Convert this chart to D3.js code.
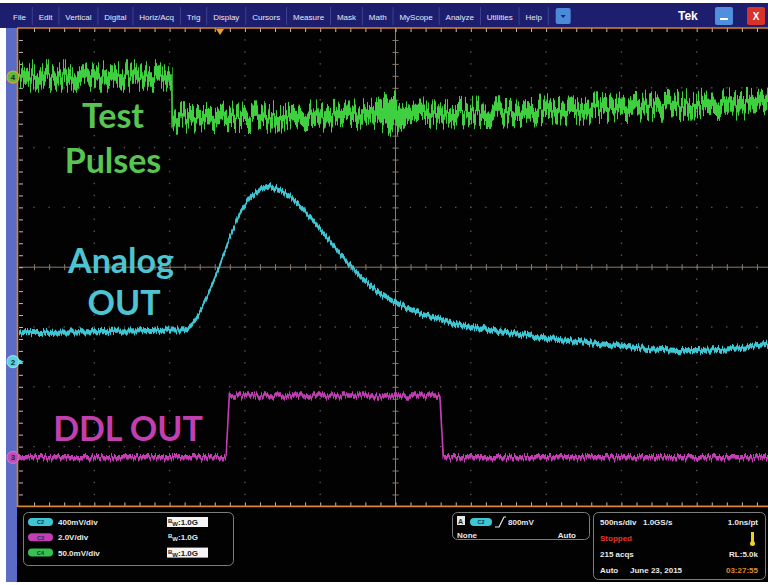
<!DOCTYPE html>
<html>
<head>
<meta charset="utf-8">
<script src="https://cdn.jsdelivr.net/npm/d3@7"></script>
<style>
  html, body { margin: 0; padding: 0; background: #fff; }
  svg { display: block; font-family: "Liberation Sans", Arial, sans-serif; }
</style>
</head>
<body>
<svg id="scope" width="768" height="585"></svg>
<script>
// ---------------- acquisition ----------------
const screenTime = [-1335, 3665];           // ns across the 10 horizontal divisions
const timePerDiv = 500;                      // ns/div

// Channel 4 — test pulses (mV)
const c4Time  = [-1335, -320, -318, -300, 531, 1000, 1090, 1130, 1170, 1260, 1859, 2523, 3187, 3665];
const c4Volts = [0.8, 0.8, -38, -34.3, -33, -31.6, -31.3, -31, -30.8, -30.5, -29.3, -26, -23, -22];
const c4Noise = [13, 13, 13, 13, 13, 13, 22, 30, 22, 13, 13, 13, 13, 13];   // mV p-p

// Channel 2 — analog shaper output (V)
const c2Time  = [-1335, -797, -232, -186, -133, -80, -33, 0, 66, 133, 199, 266, 332, 398, 465, 531,
                 664, 797, 930, 1062, 1162, 1328, 1527, 1859, 2191, 2523, 2855, 3054, 3187, 3386, 3665];
const c2Volts = [0.194, 0.201, 0.214, 0.247, 0.334, 0.448, 0.562, 0.649, 0.836, 0.997, 1.097, 1.150, 1.171,
                 1.150, 1.104, 1.043, 0.890, 0.722, 0.569, 0.455, 0.395, 0.321, 0.261, 0.201, 0.154, 0.120,
                 0.087, 0.074, 0.074, 0.087, 0.120];
const c2NoisePP = 0.034;                     // V p-p

// Channel 3 — DDL output (V)
const c3Time  = [-1335, 40, 62, 1460, 1482, 3665];
const c3Volts = [0, 0, 2.07, 2.07, 0, 0];
const c3NoisePP = 0.15;                      // V p-p

// Vertical settings
const chanNames   = ["C2", "C3", "C4"];
const chanScales  = ["400mV/div", "2.0V/div", "50.0mV/div"];
const chanBW      = ["1.0G", "1.0G", "1.0G"];
const chanBoxedBW = [true, false, true];

// Trigger / acquisition readouts
const trigLevel = "800mV";
const trigMode  = ["None", "Auto"];
const acqLeft   = [["500ns/div", "1.0GS/s"], ["Stopped"], ["215 acqs"], ["Auto", "June 23, 2015"]];
const acqRight  = ["1.0ns/pt", "", "RL:5.0k", "03:27:55"];

// Menu bar
const menuItems = ["File", "Edit", "Vertical", "Digital", "Horiz/Acq", "Trig", "Display", "Cursors",
                   "Measure", "Mask", "Math", "MyScope", "Analyze", "Utilities", "Help"];

// ---------------- layout ----------------
const W = 768, H = 585;
const gx0 = 19, divX = 75.3, gy0 = 28, divY = 59.8;
const gx1 = gx0 + 10 * divX, gy1 = gy0 + 8 * divY;

const colGreen = "#3fd040", colCyan = "#3fc6d4", colMag = "#c23eb2";

const svg = d3.select("#scope");
const defs = svg.append("defs");

const x = d3.scaleLinear().domain(screenTime).range([gx0, gx1]);
const divScaleY = d3.scaleLinear().domain([-4, 4]).range([gy1, gy0]);
const divScaleX = d3.scaleLinear().domain([0, 10]).range([gx0, gx1]);

function chanScale(vPerDiv, groundDiv) {
  return d3.scaleLinear().domain([(-4 - groundDiv) * vPerDiv, (4 - groundDiv) * vPerDiv]).range([gy1, gy0]);
}
const y4 = chanScale(50, 3.18);
const y2 = chanScale(0.4, -1.58);
const y3 = chanScale(2.0, -3.18);

// ---------------- frame ----------------
svg.append("rect").attr("width", W).attr("height", H).attr("fill", "#fff");
svg.append("rect").attr("x", 0).attr("y", 3).attr("width", W).attr("height", 25).attr("fill", "#1d1f6e");
svg.append("rect").attr("x", 6).attr("y", 28).attr("width", 11).attr("height", 554).attr("fill", "#5a6cc6");
svg.append("rect").attr("x", 17).attr("y", 28).attr("width", W - 17).attr("height", 554).attr("fill", "#020202");

// menu
const menu = svg.append("g").attr("font-size", 8).attr("fill", "#e6e8f4");
let mx = 13;
menuItems.forEach(m => {
  const t = menu.append("text").attr("x", mx).attr("y", 19.5).text(m);
  const w = t.node().getComputedTextLength();
  mx += w + 6.4;
  menu.append("line").attr("x1", mx).attr("x2", mx).attr("y1", 7).attr("y2", 25)
    .attr("stroke", "#3d418e").attr("stroke-width", 1);
  mx += 6.4;
});
menu.append("rect").attr("x", mx + 1).attr("y", 8).attr("width", 15).attr("height", 16).attr("rx", 2).attr("fill", "#4a8ad8");
menu.append("path").attr("d", `M${mx + 6},15 l5,0 l-2.5,3 z`).attr("fill", "#1d1f6e");
menu.append("text").attr("x", 678).attr("y", 20).attr("font-size", 12).attr("font-weight", "bold").attr("fill", "#fff").text("Tek");
menu.append("rect").attr("x", 715).attr("y", 7).attr("width", 18).attr("height", 18).attr("rx", 2).attr("fill", "#4f8fdc");
menu.append("rect").attr("x", 720).attr("y", 18).attr("width", 8).attr("height", 2).attr("fill", "#fff");
menu.append("rect").attr("x", 747).attr("y", 7).attr("width", 18).attr("height", 18).attr("rx", 2).attr("fill", "#d8322a");
menu.append("text").attr("x", 756).attr("y", 20).attr("text-anchor", "middle").attr("font-size", 10).attr("font-weight", "bold").attr("fill", "#fff").text("X");

// ---------------- graticule ----------------
const grat = svg.append("g");
const dotCol = "#555";
for (let i = 1; i < 10; i++) {
  if (i === 5) continue;
  for (let k = 1; k < 40; k++) {
    grat.append("rect").attr("x", divScaleX(i) - 0.7).attr("y", divScaleY(-4 + k * 0.2) - 0.7)
      .attr("width", 1.4).attr("height", 1.4).attr("fill", dotCol);
  }
}
for (let j = 1; j < 8; j++) {
  if (j === 4) continue;
  for (let k = 1; k < 50; k++) {
    grat.append("rect").attr("x", divScaleX(k * 0.2) - 0.7).attr("y", divScaleY(-4 + j) - 0.7)
      .attr("width", 1.4).attr("height", 1.4).attr("fill", dotCol);
  }
}
const crossCol = "#8d7c6c";
const minorX = d3.range(1, 50).map(k => screenTime[0] + k * timePerDiv / 5);
const minorY = d3.range(1, 40).map(k => -4 + k * 0.2);
const xc = divScaleX(5), yc = divScaleY(0);
[d3.axisTop(x), d3.axisBottom(x)].forEach(ax => {
  const g = grat.append("g").attr("transform", `translate(0,${yc})`)
    .call(ax.tickValues(minorX).tickSize(3).tickFormat(""));
  g.select(".domain").remove();
  g.selectAll("line").attr("stroke", crossCol);
});
[d3.axisLeft(divScaleY), d3.axisRight(divScaleY)].forEach(ax => {
  const g = grat.append("g").attr("transform", `translate(${xc},0)`)
    .call(ax.tickValues(minorY).tickSize(3).tickFormat(""));
  g.select(".domain").remove();
  g.selectAll("line").attr("stroke", crossCol);
});
grat.append("line").attr("x1", gx0).attr("x2", W).attr("y1", yc).attr("y2", yc).attr("stroke", crossCol);
grat.append("line").attr("x1", xc).attr("x2", xc).attr("y1", gy0).attr("y2", gy1).attr("stroke", crossCol);

const edgeCol = "#bdbdbd";
[[d3.axisBottom(x), gy0], [d3.axisTop(x), gy1]].forEach(([ax, yy]) => {
  const g = grat.append("g").attr("transform", `translate(0,${yy})`)
    .call(ax.tickValues(minorX).tickSize(4).tickFormat(""));
  g.select(".domain").remove();
  g.selectAll("line").attr("stroke", edgeCol);
});
{
  const g = grat.append("g").attr("transform", `translate(${gx0},0)`)
    .call(d3.axisRight(divScaleY).tickValues(minorY).tickSize(4).tickFormat(""));
  g.select(".domain").remove();
  g.selectAll("line").attr("stroke", edgeCol);
}
const orange = "#d9852e";
grat.append("line").attr("x1", 17).attr("x2", W).attr("y1", gy0).attr("y2", gy0).attr("stroke", orange).attr("stroke-width", 1.6);
grat.append("line").attr("x1", 17).attr("x2", W).attr("y1", gy1).attr("y2", gy1).attr("stroke", orange).attr("stroke-width", 1.6);
grat.append("line").attr("x1", 17.5).attr("x2", 17.5).attr("y1", gy0).attr("y2", gy1).attr("stroke", orange).attr("stroke-width", 1.6);
grat.append("path").attr("d", `M${x(0) - 4},${gy0 + 1} l8,0 l-4,6 z`).attr("fill", "#f0a020");

// ---------------- traces ----------------
svg.append("clipPath").attr("id", "screenClip").append("rect")
  .attr("x", gx0).attr("y", gy0 + 1).attr("width", W - gx0).attr("height", gy1 - gy0 - 2);

// vertical-only jitter that gives each trace its sampled-noise texture
function jitterFilter(id, seed, scale) {
  const f = defs.append("filter").attr("id", id)
    .attr("filterUnits", "userSpaceOnUse").attr("x", 0).attr("y", 0).attr("width", W).attr("height", H)
    .attr("color-interpolation-filters", "sRGB");
  f.append("feTurbulence").attr("type", "fractalNoise").attr("baseFrequency", "0.62 0.004")
    .attr("numOctaves", 2).attr("seed", seed).attr("result", "n");
  const ct = f.append("feComponentTransfer").attr("in", "n").attr("result", "m");
  ct.append("feFuncR").attr("type", "linear").attr("slope", 0).attr("intercept", 0.5);
  ct.append("feFuncG").attr("type", "linear").attr("slope", 2.4).attr("intercept", -0.7);
  ct.append("feFuncA").attr("type", "linear").attr("slope", 0).attr("intercept", 1);
  f.append("feDisplacementMap").attr("in", "SourceGraphic").attr("in2", "m").attr("scale", scale)
    .attr("xChannelSelector", "R").attr("yChannelSelector", "G");
}
jitterFilter("jit4", 11, 18);
jitterFilter("jit2", 5, 4);
jitterFilter("jit3", 23, 5);

function drawTrace(times, vals, noise, yScale, color, filterId) {
  const pts = times.map((t, i) => ({ t, v: vals[i], n: Array.isArray(noise) ? noise[i] : noise }));
  const outer = svg.append("g").attr("clip-path", "url(#screenClip)");
  const g = outer.append("g").attr("filter", `url(#${filterId})`);
  g.append("path").datum(pts)
    .attr("d", d3.area().x(d => x(d.t)).y0(d => yScale(d.v - d.n / 2)).y1(d => yScale(d.v + d.n / 2)))
    .attr("fill", color);
  g.append("path").datum(pts)
    .attr("d", d3.line().x(d => x(d.t)).y(d => yScale(d.v)))
    .attr("fill", "none").attr("stroke", color).attr("stroke-width", 1.6);
}
drawTrace(c4Time, c4Volts, c4Noise, y4, colGreen, "jit4");
drawTrace(c2Time, c2Volts, c2NoisePP, y2, colCyan, "jit2");
drawTrace(c3Time, c3Volts, c3NoisePP, y3, colMag, "jit3");

// ---------------- channel ground markers ----------------
function marker(yy, fill, ring, label, arrow) {
  const g = svg.append("g");
  if (arrow) g.append("path").attr("d", `M19,${yy - 2.5} l5,2.5 l-5,2.5 z`).attr("fill", fill);
  g.append("circle").attr("cx", 13).attr("cy", yy).attr("r", 6).attr("fill", fill).attr("stroke", ring).attr("stroke-width", 1.2);
  g.append("text").attr("x", 13).attr("y", yy + 3).attr("text-anchor", "middle").attr("font-size", 8)
    .attr("font-weight", "bold").attr("fill", "#1a2a2a").text(label);
}
marker(y4(0), "#5dbb3c", "#e0a030", "4", false);
marker(y2(0), "#5cd0de", "#8fe0ea", "2", true);
marker(y3(0), "#c54cb6", "#d070c4", "3", false);

// ---------------- annotations ----------------
const ann = svg.append("g").attr("font-family", "Lato, 'Open Sans', sans-serif").attr("font-weight", "bold")
  .attr("font-size", 34).attr("text-anchor", "middle");
ann.append("text").attr("x", 113).attr("y", 128).attr("fill", "#58c552").text("Test");
ann.append("text").attr("x", 113).attr("y", 173).attr("fill", "#58c552").text("Pulses");
ann.append("text").attr("x", 121).attr("y", 273).attr("fill", "#4ec4d2").text("Analog");
ann.append("text").attr("x", 124).attr("y", 315).attr("fill", "#4ec4d2").text("OUT");
ann.append("text").attr("x", 128).attr("y", 441).attr("fill", "#c23fb0").text("DDL OUT");

// ---------------- readout panels ----------------
const panelStroke = "#7d7d7d";
const ro = svg.append("g").attr("font-size", 8).attr("font-weight", "bold").attr("fill", "#e8e8e8");
const badgeCols = ["#3fc6d4", "#c23eb2", "#36c24e"];
ro.append("rect").attr("x", 23.5).attr("y", 512.5).attr("width", 210).attr("height", 53).attr("rx", 5)
  .attr("fill", "none").attr("stroke", panelStroke);
chanNames.forEach((c, i) => {
  const yy = 522 + i * 15.3;
  ro.append("rect").attr("x", 28).attr("y", yy - 4).attr("width", 25).attr("height", 8).attr("rx", 4).attr("fill", badgeCols[i]);
  ro.append("text").attr("x", 40.5).attr("y", yy + 2.3).attr("text-anchor", "middle").attr("font-size", 5.5)
    .attr("fill", "#0c3a40").text(c);
  ro.append("text").attr("x", 58).attr("y", yy + 3).text(chanScales[i]);
  if (chanBoxedBW[i]) {
    ro.append("rect").attr("x", 167).attr("y", yy - 5).attr("width", 41).attr("height", 10).attr("fill", "#f4f4f4");
  }
  const bw = ro.append("text").attr("x", 168).attr("y", yy + 3).attr("fill", chanBoxedBW[i] ? "#222" : "#e8e8e8");
  bw.append("tspan").attr("font-size", 6).attr("dy", -2).text("B");
  bw.append("tspan").attr("font-size", 6).attr("dy", 3).text("W");
  bw.append("tspan").attr("dy", -1).text(":" + chanBW[i]);
});

// trigger panel
ro.append("rect").attr("x", 452.5).attr("y", 512.5).attr("width", 137).attr("height", 27).attr("rx", 5)
  .attr("fill", "none").attr("stroke", panelStroke);
ro.append("rect").attr("x", 457).attr("y", 516).attr("width", 8).attr("height", 9).attr("fill", "#e8e8e8");
ro.append("text").attr("x", 458).attr("y", 523.5).attr("font-size", 7).attr("fill", "#222").text("A");
ro.append("rect").attr("x", 470).attr("y", 518).attr("width", 22).attr("height", 8).attr("rx", 4).attr("fill", badgeCols[0]);
ro.append("text").attr("x", 481).attr("y", 524.3).attr("text-anchor", "middle").attr("font-size", 5.5).attr("fill", "#0c3a40").text("C2");
ro.append("path").attr("d", "M495,527 L499,527 L504,517 L506,517").attr("fill", "none").attr("stroke", "#e8e8e8").attr("stroke-width", 1.2);
ro.append("text").attr("x", 508).attr("y", 525).text(trigLevel);
ro.append("text").attr("x", 457).attr("y", 538).text(trigMode[0]);
ro.append("text").attr("x", 576).attr("y", 538).attr("text-anchor", "end").text(trigMode[1]);

// acquisition panel
ro.append("rect").attr("x", 593.5).attr("y", 512.5).attr("width", 172).attr("height", 67).attr("rx", 5)
  .attr("fill", "none").attr("stroke", panelStroke);
const acqSecondX = [643, 0, 0, 630];
acqLeft.forEach((parts, i) => {
  const yy = 524.5 + i * 16.2;
  ro.append("text").attr("x", 600).attr("y", yy).attr("fill", i === 1 ? "#e8332c" : "#e8e8e8").text(parts[0]);
  if (parts[1]) ro.append("text").attr("x", acqSecondX[i]).attr("y", yy).text(parts[1]);
  if (acqRight[i]) ro.append("text").attr("x", 758).attr("y", yy).attr("text-anchor", "end")
    .attr("fill", i === 3 ? "#e08a2a" : "#e8e8e8").text(acqRight[i]);
});
ro.append("rect").attr("x", 751).attr("y", 532).attr("width", 3).attr("height", 10).attr("fill", "#f0d020");
ro.append("circle").attr("cx", 752.5).attr("cy", 543.5).attr("r", 2.5).attr("fill", "#f0d020");
</script>
</body>
</html>
